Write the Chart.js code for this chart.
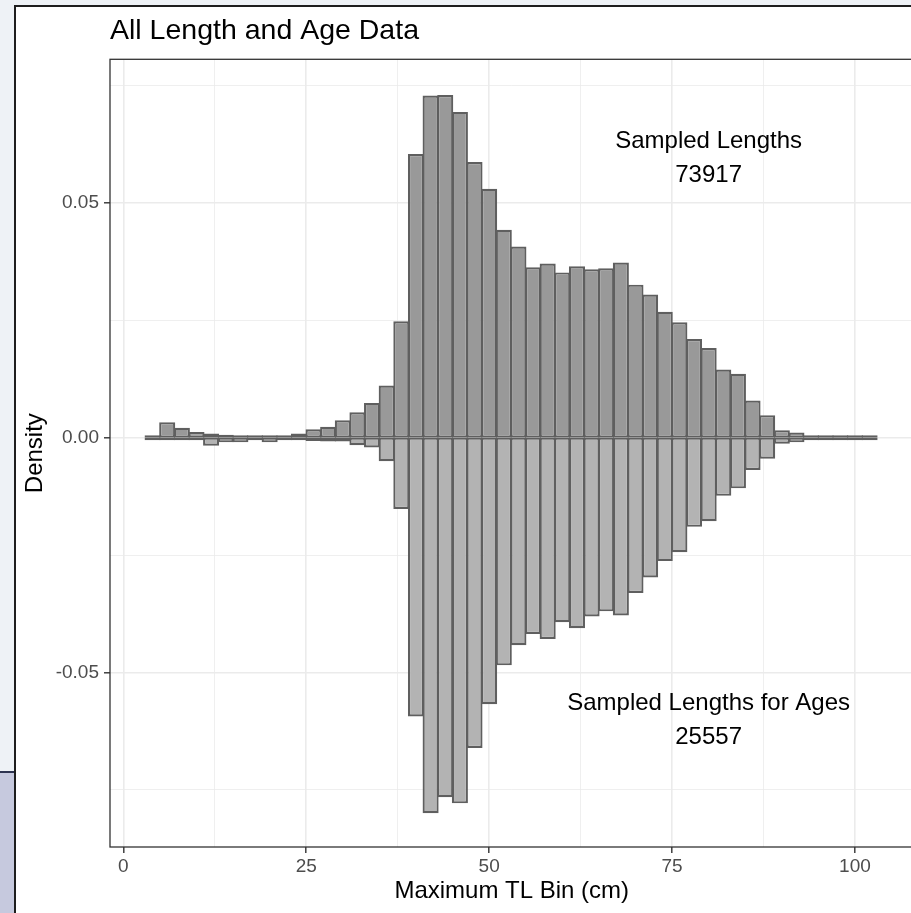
<!DOCTYPE html>
<html><head><meta charset="utf-8">
<script src="https://cdn.jsdelivr.net/npm/chart.js@4"></script>
<style>
html,body{margin:0;padding:0;width:911px;height:913px;overflow:hidden;background:#eef2f6;}
#strip{position:absolute;left:0;top:771px;width:15px;height:142px;background:#c6c9de;border-top:2px solid #2d3350;}
#frame{position:absolute;left:14px;top:5px;width:980px;height:980px;background:#fff;border:2px solid #1e1e1e;}
#wrap{position:absolute;left:0;top:0;}
canvas{display:block;}
</style></head>
<body>
<div id="strip"></div><div id="frame"></div>
<div id="wrap"><canvas id="c" width="930" height="913" style="width:930px;height:913px"></canvas></div>
<script>
// ---- data ----
const binCenters = [4,6,8,10,12,14,16,18,20,22,24,26,28,30,32,34,36,38,40,42,44,46,48,50,52,54,56,58,60,62,64,66,68,70,72,74,76,78,80,82,84,86,88,90,92,94,96,98,100,102];
const sampledLengths = [0.0003,0.0033,0.0021,0.0012,0.0009,0.0006,0.0005,0.0004,0.0004,0.0005,0.0009,0.0018,0.0023,0.0037,0.0054,0.0074,0.0111,0.0248,0.0604,0.0729,0.0730,0.0694,0.0587,0.0530,0.0443,0.0407,0.0363,0.0371,0.0352,0.0365,0.0359,0.0361,0.0373,0.0326,0.0305,0.0268,0.0246,0.0210,0.0191,0.0145,0.0136,0.0079,0.0048,0.0016,0.0011,0.0004,0.0002,0.0001,0.0001,0.0001];
const sampledLengthsForAges = [-0.0001,-0.0001,-0.0001,-0.0002,-0.0017,-0.0010,-0.0010,-0.0003,-0.0010,-0.0003,-0.0003,-0.0007,-0.0008,-0.0008,-0.0016,-0.0021,-0.0050,-0.0152,-0.0594,-0.0800,-0.0766,-0.0779,-0.0661,-0.0568,-0.0485,-0.0442,-0.0418,-0.0429,-0.0393,-0.0406,-0.0381,-0.0370,-0.0379,-0.0331,-0.0298,-0.0263,-0.0244,-0.0190,-0.0178,-0.0124,-0.0108,-0.0069,-0.0045,-0.0013,-0.0010,-0.0002,-0.0001,-0.0001,-0.0001,-0.0001];
const xTickValues = [0,12.5,25,37.5,50,62.5,75,87.5,100];
const xTickLabels = ['0','','25','','50','','75','','100'];
const yTickValues = [-0.075,-0.05,-0.025,0,0.025,0.05,0.075];
const yTickLabels = ['','-0.05','','0.00','','0.05',''];
const xRange = [-1.82, 108.0];
const yRange = [-0.0872, 0.0806];
const annotX = [80, 80];
const annotY = [0.0595, -0.0602];
const annotLines = [['Sampled Lengths','73917'],['Sampled Lengths for Ages','25557']];
const titleText = 'All Length and Age Data';
const xTitle = 'Maximum TL Bin (cm)';
const yTitle = 'Density';

// ---- chart ----
const FONT = "'Liberation Sans', Arial, Helvetica, sans-serif";
Chart.defaults.font.family = FONT;

const panelBorder = {
  id: 'panelBorder',
  afterDatasetsDraw(chart) {
    const {ctx, chartArea: a} = chart;
    ctx.save();
    ctx.strokeStyle = '#333333';
    ctx.lineWidth = 1.3;
    ctx.strokeRect(a.left, a.top, a.right - a.left, a.bottom - a.top);
    ctx.restore();
  }
};
const annotations = {
  id: 'annotations',
  afterDatasetsDraw(chart) {
    const {ctx, scales} = chart;
    ctx.save();
    ctx.font = '24px ' + FONT;
    ctx.fillStyle = '#000000';
    ctx.textAlign = 'center';
    ctx.textBaseline = 'middle';
    const gap = 34.5;
    annotLines.forEach((lines, i) => {
      const cx = scales.x.getPixelForValue(annotX[i]);
      const cy = scales.y.getPixelForValue(annotY[i]);
      const start = cy - gap * (lines.length - 1) / 2;
      lines.forEach((t, j) => ctx.fillText(t, cx, start + j * gap));
    });
    ctx.restore();
  }
};

const barCommon = {
  borderColor: '#5f5f5f',
  borderWidth: 2.2,
  borderSkipped: false,
  inflateAmount: 0,
  grouped: false,
  barPercentage: 1.1,
  categoryPercentage: 1,
  minBarLength: 2.5
};

new Chart(document.getElementById('c'), {
  type: 'bar',
  data: {
    datasets: [
      Object.assign({label: 'Sampled Lengths', backgroundColor: '#999999',
        data: binCenters.map((x, i) => ({x: x, y: sampledLengths[i]}))}, barCommon),
      Object.assign({label: 'Sampled Lengths for Ages', backgroundColor: '#b3b3b3',
        data: binCenters.map((x, i) => ({x: x, y: sampledLengthsForAges[i]}))}, barCommon)
    ]
  },
  options: {
    responsive: false,
    animation: false,
    devicePixelRatio: 1,
    layout: {padding: {left: 17, right: 16.5, top: 0, bottom: 0}},
    plugins: {
      legend: {display: false},
      tooltip: {enabled: false},
      title: {
        display: true, text: titleText, align: 'start', fullSize: false,
        color: '#000000', font: {size: 28.5, weight: 'normal', lineHeight: 1.2},
        padding: {top: 13.7, bottom: 11.4}
      }
    },
    scales: {
      x: {
        type: 'linear', min: xRange[0], max: xRange[1], offset: false,
        afterBuildTicks: s => { s.ticks = xTickValues.map(v => ({value: v})); },
        afterFit: s => { s.height = 66; },
        grid: {
          offset: false, drawTicks: true, tickLength: 6,
          color: '#ebebeb',
          lineWidth: c => xTickLabels[c.index] ? 1.6 : 0.8,
          tickColor: c => xTickLabels[c.index] ? '#333333' : 'rgba(0,0,0,0)',
          tickWidth: 1.4
        },
        border: {display: false},
        ticks: {
          autoSkip: false, maxRotation: 0, padding: 2.3,
          color: '#4d4d4d', font: {size: 19},
          callback: (v, i) => xTickLabels[i]
        },
        title: {display: true, text: xTitle, color: '#000000', font: {size: 24}, padding: {top: 0, bottom: 7.6}}
      },
      y: {
        type: 'linear', min: yRange[0], max: yRange[1],
        // the zero gridline is placed a hair off 0 so Chart.js does not pull the bars away from their base
        afterBuildTicks: s => { s.ticks = yTickValues.map(v => ({value: v === 0 ? 1e-9 : v})); },
        afterFit: s => { s.width = 93; },
        grid: {
          drawTicks: true, tickLength: 6,
          color: '#ebebeb',
          lineWidth: c => yTickLabels[c.index] ? 1.6 : 0.8,
          tickColor: c => yTickLabels[c.index] ? '#333333' : 'rgba(0,0,0,0)',
          tickWidth: 1.4
        },
        border: {display: false},
        ticks: {
          autoSkip: false, padding: 5,
          color: '#4d4d4d', font: {size: 19},
          callback: (v, i) => yTickLabels[i]
        },
        title: {display: true, text: yTitle, color: '#000000', font: {size: 24}, padding: {top: 4.3, bottom: 0}}
      }
    }
  },
  plugins: [panelBorder, annotations]
});
</script>
</body></html>
